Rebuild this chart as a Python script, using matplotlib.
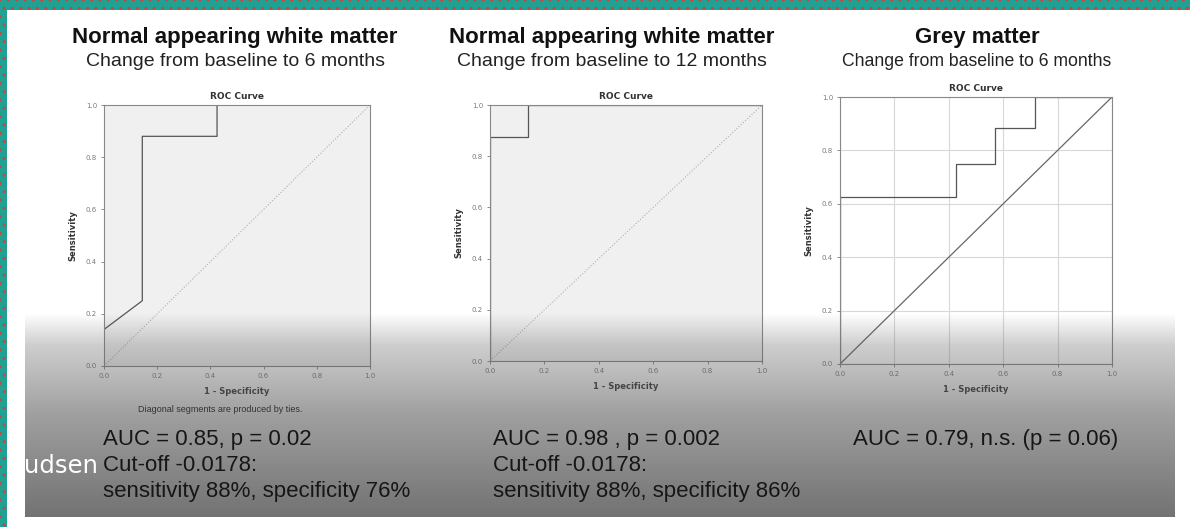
import matplotlib.pyplot as plt
import numpy as np
from matplotlib.patches import Rectangle, FancyBboxPatch

# ROC step curves (1 - specificity, sensitivity)
NAWM6_FPR = [0.0, 0.0, 0.144, 0.144, 0.425, 0.425, 1.0]
NAWM6_TPR = [0.0, 0.14, 0.25, 0.88, 0.88, 1.0, 1.0]

NAWM12_FPR = [0.0, 0.0, 0.14, 0.14, 1.0]
NAWM12_TPR = [0.0, 0.875, 0.875, 1.0, 1.0]

GM6_FPR = [0.0, 0.0, 0.427, 0.427, 0.57, 0.57, 0.718, 0.718, 1.0]
GM6_TPR = [0.0, 0.625, 0.625, 0.75, 0.75, 0.884, 0.884, 1.0, 1.0]

TICKS = [0.0, 0.2, 0.4, 0.6, 0.8, 1.0]
TICK_LABELS = ['0.0', '0.2', '0.4', '0.6', '0.8', '1.0']

TITLES = ['Normal appearing white matter', 'Normal appearing white matter', 'Grey matter']
SUBTITLES = ['Change from baseline to 6 months', 'Change from baseline to 12 months',
             'Change from baseline to 6 months']
RESULTS = [
    ['AUC = 0.85, p = 0.02', 'Cut-off -0.0178:', 'sensitivity 88%, specificity 76%'],
    ['AUC = 0.98 , p = 0.002', 'Cut-off -0.0178:', 'sensitivity 88%, specificity 86%'],
    ['AUC = 0.79, n.s. (p = 0.06)'],
]

W, H = 1190, 527
TEAL = '#1fa294'

fig = plt.figure(figsize=(W / 100, H / 100), dpi=100)
fig.patch.set_facecolor('white')

# background: teal frame + white slide
bg = fig.add_axes([0, 0, 1, 1], zorder=0)
bg.set_xlim(0, W)
bg.set_ylim(H, 0)
bg.axis('off')
bg.add_patch(Rectangle((0, 0), W, 10, facecolor=TEAL, edgecolor='#c9463f',
                       hatch='..', linewidth=0))
bg.add_patch(Rectangle((0, 0), 7, H, facecolor=TEAL, edgecolor='#c9463f',
                       hatch='..', linewidth=0))
bg.add_patch(FancyBboxPatch((7, 10), W, H, boxstyle='round,pad=0,rounding_size=8',
                            facecolor='white', edgecolor='none'))


def roc_axes(rect, fpr, tpr, shaded, solid_diag):
    ax = fig.add_axes(rect, zorder=1)
    ax.set_facecolor('#f0f0f0' if shaded else 'white')
    ax.plot(fpr, tpr, color='#555555', linewidth=0.9)
    if solid_diag:
        ax.plot([0, 1], [0, 1], color='#666666', linewidth=0.9)
        ax.grid(True, color='#d8d8d8', linewidth=0.8)
        ax.set_axisbelow(True)
    else:
        ax.plot([0, 1], [0, 1], color='#b0b0b0', linewidth=0.8, linestyle=':')
    ax.set_xlim(0, 1)
    ax.set_ylim(0, 1)
    ax.set_xticks(TICKS)
    ax.set_yticks(TICKS)
    ax.set_xticklabels(TICK_LABELS)
    ax.set_yticklabels(TICK_LABELS)
    ax.tick_params(labelsize=5, colors='#7a7a7a', length=2.5, width=0.6, pad=2.5)
    for s in ax.spines.values():
        s.set_color('#888888')
        s.set_linewidth(0.8)
    ax.set_title('ROC Curve', fontsize=6.5, fontweight='bold', color='#333333', pad=4)
    ax.set_xlabel('1 - Specificity', fontsize=6, fontweight='bold', color='#333333', labelpad=6)
    ax.set_ylabel('Sensitivity', fontsize=6, fontweight='bold', color='#333333', labelpad=6)
    return ax


def frac(x0, y0, x1, y1):
    return [x0 / W, 1 - y1 / H, (x1 - x0) / W, (y1 - y0) / H]


roc_axes(frac(104, 105, 370, 366), NAWM6_FPR, NAWM6_TPR, True, False)
roc_axes(frac(490, 105, 762, 361), NAWM12_FPR, NAWM12_TPR, True, False)
roc_axes(frac(840, 97, 1112, 364), GM6_FPR, GM6_TPR, False, True)

# overlay: video gradient and slide text
ov = fig.add_axes([0, 0, 1, 1], zorder=10)
ov.axis('off')
ov.patch.set_alpha(0)

ys = np.arange(313, 518)
alpha = np.interp(ys, [313, 345, 415, 517], [0.0, 0.3, 0.58, 0.85])
grad = np.zeros((len(ys), 1, 4))
grad[..., 0:3] = 0.35
grad[:, 0, 3] = alpha
ov.imshow(grad, extent=(25, 1175, 517, 313), aspect='auto', interpolation='bilinear')
ov.set_xlim(0, W)
ov.set_ylim(H, 0)

font = 'Liberation Sans'
title_x = [235, 612, 977]
sub_sizes = [14, 14, 12.7]
for x, t, s, fs in zip(title_x, TITLES, SUBTITLES, sub_sizes):
    ov.text(x, 38, t, ha='center', va='center', fontsize=16, fontweight='bold',
            family=font, color='#111111')
    ov.text(x, 62, s, ha='center', va='center', fontsize=fs,
            family=font, color='#222222')

ov.text(220, 410, 'Diagonal segments are produced by ties.', ha='center', va='center',
        fontsize=6.5, color='#333333', family=font)

res_x = [103, 493, 853]
for x, lines in zip(res_x, RESULTS):
    for i, line in enumerate(lines):
        ov.text(x, 440 + i * 25.5, line, ha='left', va='center', fontsize=16,
                family=font, color='#161616')

ov.text(24, 466, 'udsen', ha='left', va='center', fontsize=17.5, family='DejaVu Sans',
        color='white')

fig.savefig('out.png', dpi=100)
